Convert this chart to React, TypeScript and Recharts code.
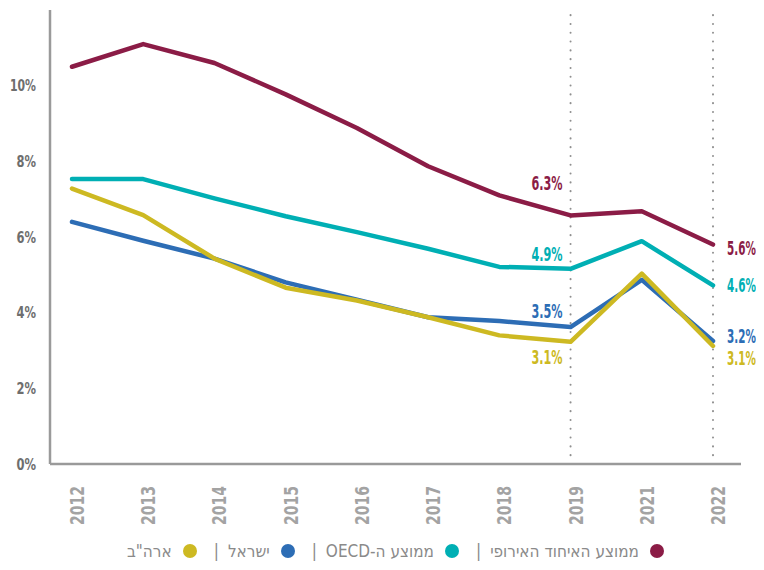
import { LineChart, Line, XAxis, YAxis, ReferenceLine, LabelList } from 'recharts'

const years = ['2012', '2013', '2014', '2015', '2016', '2017', '2018', '2019', '2021', '2022']
const euAvg = [10.5, 11.1, 10.6, 9.77, 8.88, 7.87, 7.1, 6.57, 6.68, 5.8]
const oecdAvg = [7.53, 7.53, 7.02, 6.55, 6.13, 5.69, 5.21, 5.16, 5.89, 4.72]
const israel = [6.4, 5.9, 5.43, 4.8, 4.34, 3.88, 3.78, 3.62, 4.87, 3.25]
const usa = [7.28, 6.58, 5.43, 4.66, 4.32, 3.88, 3.4, 3.23, 5.03, 3.12]

const yTicks = [0, 2, 4, 6, 8, 10]
const markedYears = ['2019', '2022']

// labels printed on the chart (they are the rounded published figures)
const euLabels = ['6.3%', '5.6%']
const oecdLabels = ['4.9%', '4.6%']
const israelLabels = ['3.5%', '3.2%']
const usaLabels = ['3.1%', '3.1%']

const legendNames = ['ממוצע האיחוד האירופי', 'ממוצע ה-OECD', 'ישראל', 'ארה"ב']

const COLORS = ['#8b1c46', '#00afb4', '#2d6db5', '#cdb922']
const FONT = "'Liberation Sans Narrow', 'DejaVu Sans Condensed', sans-serif"
const HEB_FONT = "'DejaVu Sans Condensed', 'Liberation Sans', sans-serif"

const data = years.map((year, i) => ({
  year,
  eu: euAvg[i],
  oecd: oecdAvg[i],
  israel: israel[i],
  usa: usa[i],
}))

// offsets of the two printed labels for each series: [2019 dy, 2022 dy]
const labelDy = [
  [-32, 4],
  [-15, 0],
  [-16, -4],
  [15, 13],
]

// the original uses a condensed face, squeeze the text to the same width
const squeeze = (s: string, digit: number, pct: number) =>
  s.split('').reduce((w, c) => w + (c === '%' ? pct : c === '.' ? digit * 0.45 : digit), 0)

const SX = 0.7

function makeLabel(texts: string[], color: string, dys: number[]) {
  return (props: any) => {
    const { x, y, index } = props
    const k = markedYears.indexOf(years[index])
    if (k < 0) return null
    const left = k === 0
    const tx = left ? x - 8 : x + 14
    const ty = y + dys[k]
    const w = left ? squeeze(texts[k], 8, 11.5) : squeeze(texts[k], 7.5, 10.5)
    return (
      <text
        key={'l' + index}
        x={0}
        y={0}
        transform={`translate(${tx}, ${ty}) scale(${SX}, 1)`}
        textAnchor={left ? 'end' : 'start'}
        dominantBaseline="central"
        fill={color}
        fontSize={left ? 20 : 19}
        fontWeight="bold"
        fontFamily={FONT}
        textLength={w / SX}
        lengthAdjust="spacingAndGlyphs"
      >
        {texts[k]}
      </text>
    )
  }
}

function YearTick(props: any) {
  const { x, y, payload } = props
  const tx = x + 5
  const ty = y + 14
  return (
    <text
      x={tx}
      y={ty}
      transform={`rotate(-90, ${tx}, ${ty})`}
      textAnchor="end"
      dominantBaseline="central"
      fill="#a3a3a3"
      fontSize={20}
      fontWeight="bold"
      fontFamily={FONT}
      textLength={39}
      lengthAdjust="spacingAndGlyphs"
    >
      {payload.value}
    </text>
  )
}

function PctTick(props: any) {
  const { x, y, payload } = props
  const s = payload.value + '%'
  return (
    <text
      x={x}
      y={y}
      textAnchor="end"
      dominantBaseline="central"
      fill="#6e6e6e"
      fontSize={16}
      fontWeight="bold"
      fontFamily={FONT}
      textLength={squeeze(s, 6.5, 13)}
      lengthAdjust="spacingAndGlyphs"
    >
      {s}
    </text>
  )
}

export default function App() {
  const keys = ['eu', 'oecd', 'israel', 'usa']
  const labels = [euLabels, oecdLabels, israelLabels, usaLabels]

  return (
    <div style={{ position: 'relative', margin: -8, width: 764, height: 570 }}>
      <LineChart width={764} height={570} data={data} margin={{ top: 10, right: 23, left: 10, bottom: 46 }}>
        <XAxis
          dataKey="year"
          padding={{ left: 22, right: 28 }}
          axisLine={{ stroke: '#9a9a9a', strokeWidth: 2.5 }}
          tickLine={false}
          interval={0}
          height={60}
          tick={<YearTick />}
        />
        <YAxis
          domain={[0, 12]}
          ticks={yTicks}
          width={40}
          axisLine={{ stroke: '#9a9a9a', strokeWidth: 2.5 }}
          tickLine={false}
          tickMargin={8}
          tick={<PctTick />}
        />
        {markedYears.map((yr) => (
          <ReferenceLine
            key={yr}
            x={yr}
            stroke="#8f8f8f"
            strokeWidth={2}
            strokeDasharray="0.1 8.7"
            strokeLinecap="round"
          />
        ))}
        {keys.map((k, i) => (
          <Line
            key={k}
            dataKey={k}
            stroke={COLORS[i]}
            strokeWidth={4.5}
            strokeLinejoin="round"
            strokeLinecap="round"
            dot={false}
            activeDot={false}
            isAnimationActive={false}
            type="linear"
          >
            <LabelList dataKey={k} content={makeLabel(labels[i], COLORS[i], labelDy[i])} />
          </Line>
        ))}
      </LineChart>
      <div
        dir="rtl"
        style={{
          position: 'absolute',
          top: 541,
          left: 50,
          width: 691,
          display: 'flex',
          justifyContent: 'center',
          alignItems: 'center',
          fontFamily: HEB_FONT,
          fontSize: 17,
          color: '#8a8a8a',
          whiteSpace: 'nowrap',
        }}
      >
        {legendNames.map((name, i) => (
          <span key={name} style={{ display: 'flex', alignItems: 'center' }}>
            {i > 0 && <span style={{ marginRight: 9, marginLeft: 17 }}>|</span>}
            <span
              style={{
                display: 'inline-block',
                width: 14,
                height: 14,
                borderRadius: 7,
                background: COLORS[i],
                marginLeft: 11,
              }}
            />
            <span>{name}</span>
          </span>
        ))}
      </div>
    </div>
  )
}
